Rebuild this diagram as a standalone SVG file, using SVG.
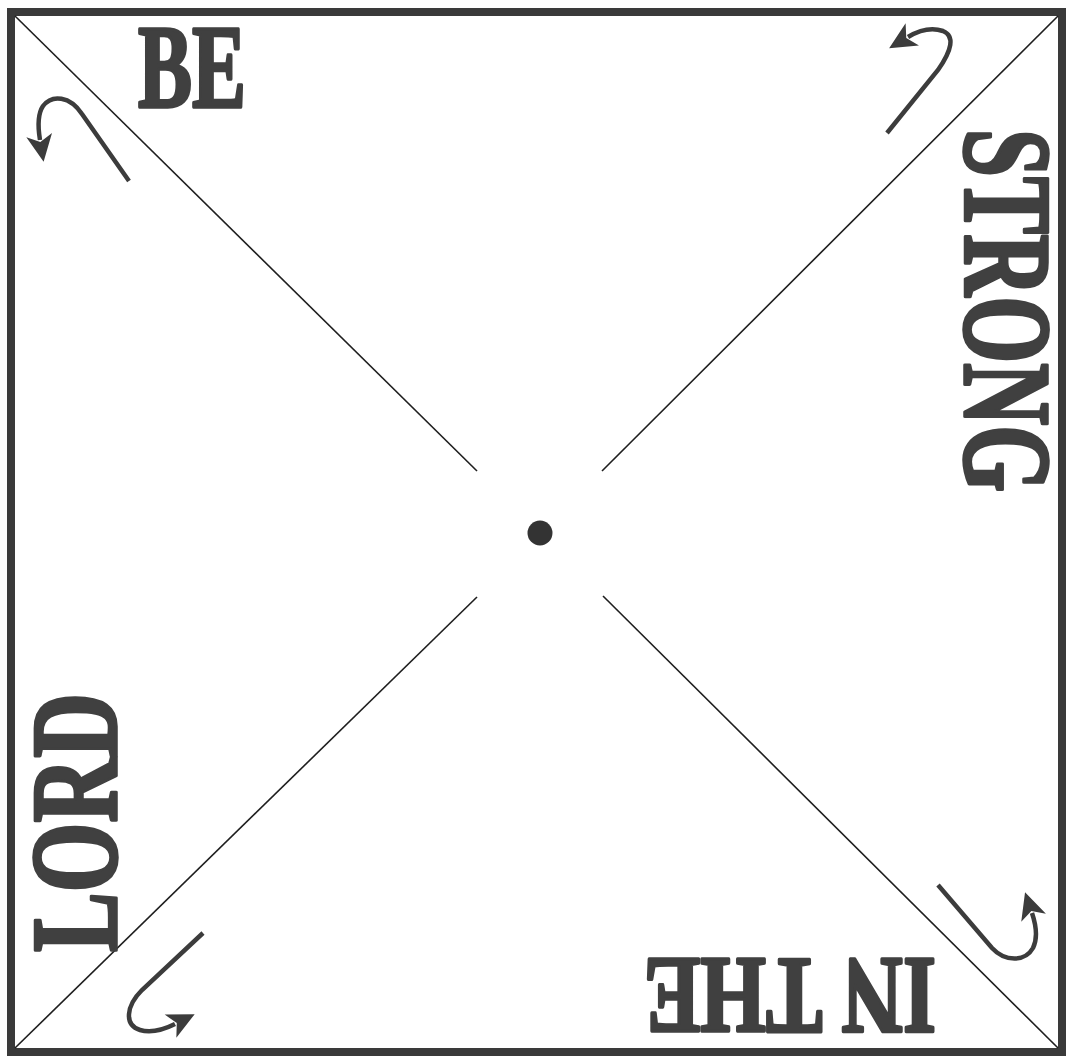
<svg xmlns="http://www.w3.org/2000/svg" width="1073" height="1058" viewBox="0 0 1073 1058">
  <style>
    .word { font-family: "Liberation Serif", "Times New Roman", serif; font-weight: 700; fill: #404040; stroke: #404040; stroke-width: 3.5; stroke-linejoin: round; }
    .diag { stroke: #1e1e1e; stroke-width: 1.6; fill: none; stroke-linecap: butt; }
    .hook { stroke: #3c3c3c; stroke-width: 4.5; fill: none; stroke-linecap: butt; marker-end: url(#head); }
  </style>
  <defs>
    <marker id="head" markerUnits="userSpaceOnUse" markerWidth="36" markerHeight="36" viewBox="-4 -18 36 36" refX="5" refY="0" orient="auto" overflow="visible">
      <path d="M27,0 L0,-13 L7,0 L0,13 Z" fill="#3c3c3c"/>
    </marker>
  </defs>
  <rect x="0" y="0" width="1073" height="1058" fill="#ffffff"/>
  <g id="frame">
    <rect x="11" y="12" width="1051" height="1040" fill="none" stroke="#3a3a3a" stroke-width="8"/>
  </g>
  <g id="connectors">
    <line class="diag" x1="15" y1="16" x2="477" y2="471"/>
    <line class="diag" x1="1058" y1="16" x2="602" y2="471"/>
    <line class="diag" x1="15" y1="1048" x2="477" y2="597"/>
    <line class="diag" x1="1058" y1="1048" x2="603" y2="596"/>
    <path class="hook" d="M129,181 L82,114 C70,96 52,94 43,106 C37,115 38,128 40,140"/>
    <path class="hook" d="M887,133 L938,70 C952,50 955,36 943,31 C931,27 918,31 908,37"/>
    <path class="hook" d="M203,933 L142,990 C126,1006 124,1025 140,1030 C150,1033 163,1030 175,1024"/>
    <path class="hook" d="M938,885 L992,948 C1005,962 1025,962 1033,948 C1038,938 1036,925 1032,913"/>
  </g>
  <g id="center">
    <circle cx="540" cy="533" r="12.5" fill="#333333"/>
  </g>
  <g id="be">
    <text class="word" x="138" y="107" font-size="118" textLength="108" lengthAdjust="spacingAndGlyphs">BE</text>
  </g>
  <g id="strong">
    <text class="word" transform="translate(965,129) rotate(90)" x="0" y="0" font-size="124" textLength="363" lengthAdjust="spacingAndGlyphs">STRONG</text>
  </g>
  <g id="in-the">
    <text class="word" transform="translate(936,959) rotate(180)" x="0" y="0" font-size="110" textLength="292" lengthAdjust="spacingAndGlyphs">IN THE</text>
  </g>
  <g id="lord">
    <text class="word" transform="translate(116,952) rotate(-90)" x="0" y="0" font-size="122" textLength="259" lengthAdjust="spacingAndGlyphs">LORD</text>
  </g>
</svg>
